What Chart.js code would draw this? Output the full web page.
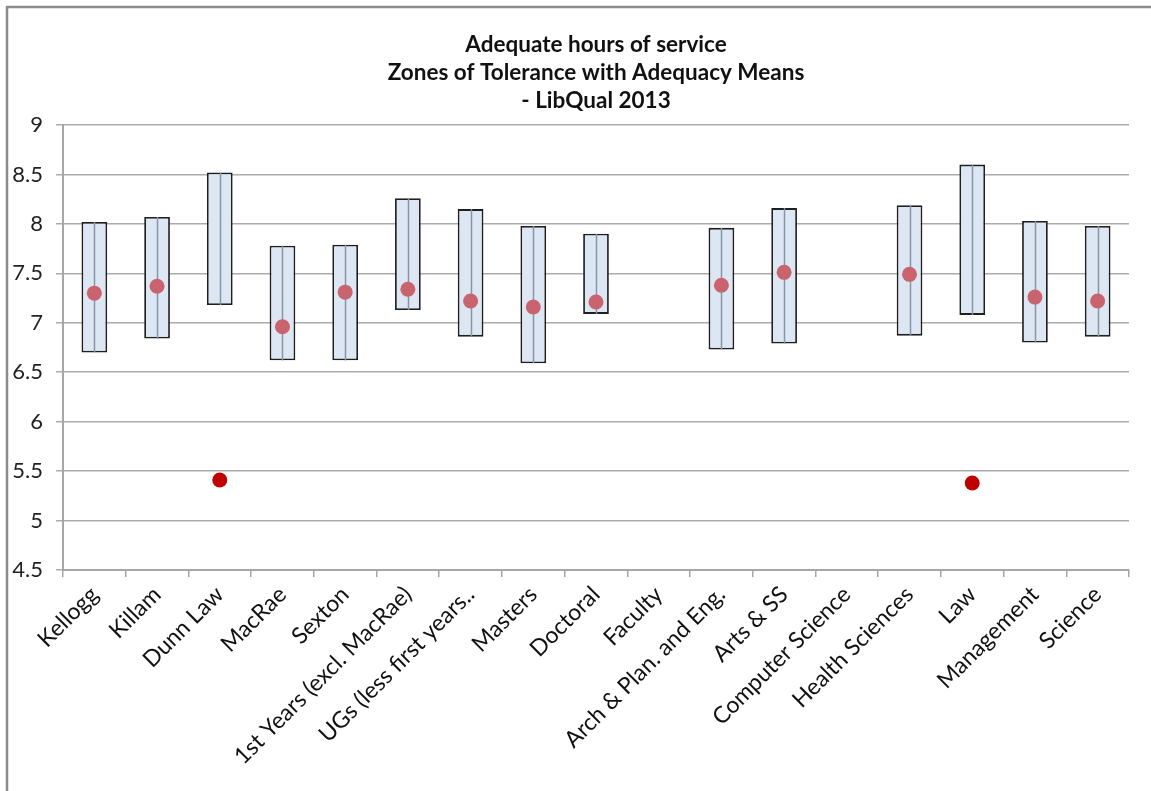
<!DOCTYPE html>
<html>
<head>
<meta charset="utf-8">
<script src="https://cdn.jsdelivr.net/npm/chart.js@4.4.1/dist/chart.umd.min.js"></script>
<style>
  html, body { margin: 0; padding: 0; background: #ffffff; overflow: hidden; }
  #wrap { position: absolute; left: 0; top: 0; width: 1151px; height: 791px; }
</style>
</head>
<body>
<div id="wrap"><canvas id="zot"></canvas></div>
<script>
// Groups surveyed in LibQual 2013
const categories = [
  'Kellogg', 'Killam', 'Dunn Law', 'MacRae', 'Sexton',
  '1st Years (excl. MacRae)', 'UGs (less first years..', 'Masters', 'Doctoral',
  'Faculty', 'Arch & Plan. and Eng.', 'Arts & SS', 'Computer Science',
  'Health Sciences', 'Law', 'Management', 'Science'
];

// Zone of tolerance: minimum and desired means
const minimumMeans = [6.70, 6.84, 7.18, 6.62, 6.62, 7.13, 6.86, 6.59, 7.09, null, 6.73, 6.79, null, 6.87, 7.08, 6.80, 6.86];
const desiredMeans = [8.02, 8.07, 8.52, 7.78, 7.79, 8.26, 8.15, 7.98, 7.90, null, 7.96, 8.16, null, 8.19, 8.60, 8.03, 7.98];

// Adequacy (perceived) means
const adequacyMeans = [7.30, 7.37, 5.41, 6.96, 7.31, 7.34, 7.22, 7.16, 7.21, null, 7.38, 7.51, null, 7.49, 5.38, 7.26, 7.22];

// Value axis ticks
const yMin = 4.5;
const yMax = 9;
const yStep = 0.5;

const FONT = 'Lato, "Open Sans", "DejaVu Sans", sans-serif';

const zones = categories.map((c, i) =>
  (minimumMeans[i] == null || desiredMeans[i] == null) ? null : [minimumMeans[i], desiredMeans[i]]);

// Means inside their zone are drawn muted, those below it in strong red
const pointColors = adequacyMeans.map((v, i) => {
  if (v == null) return 'rgba(0,0,0,0)';
  const inside = minimumMeans[i] != null && v >= minimumMeans[i] && v <= desiredMeans[i];
  return inside ? '#c9646e' : '#c00000';
});

// Thin centre line through each tolerance bar
const centreLine = {
  id: 'centreLine',
  afterDatasetDraw(chart, args) {
    if (args.index !== 0) return;
    const ctx = chart.ctx;
    ctx.save();
    ctx.strokeStyle = '#8595a9';
    ctx.lineWidth = 1.5;
    args.meta.data.forEach((bar, i) => {
      if (zones[i] == null) return;
      ctx.beginPath();
      ctx.moveTo(Math.round(bar.x) + 0.5, bar.y);
      ctx.lineTo(Math.round(bar.x) + 0.5, bar.base);
      ctx.stroke();
    });
    ctx.restore();
  }
};

// Frame around the chart object
const frame = {
  id: 'frame',
  beforeDraw(chart) {
    const ctx = chart.ctx;
    ctx.save();
    ctx.strokeStyle = '#8c8c8c';
    ctx.lineWidth = 2.5;
    ctx.beginPath();
    ctx.moveTo(7, chart.height + 5);
    ctx.lineTo(7, 7);
    ctx.lineTo(chart.width + 5, 7);
    ctx.stroke();
    ctx.restore();
  }
};

new Chart(document.getElementById('zot'), {
  type: 'bar',
  data: {
    labels: categories,
    datasets: [
      {
        label: 'Zone of tolerance',
        data: zones,
        backgroundColor: '#dde7f3',
        borderColor: '#1f1f1f',
        borderWidth: 1.8,
        borderSkipped: false,
        categoryPercentage: 1.0,
        barPercentage: 0.41,
        order: 2
      },
      {
        type: 'line',
        label: 'Adequacy mean',
        data: adequacyMeans,
        showLine: false,
        pointRadius: 7.5,
        pointHoverRadius: 7.5,
        pointBorderWidth: 0,
        pointBackgroundColor: pointColors,
        pointBorderColor: pointColors,
        order: 1
      }
    ]
  },
  options: {
    responsive: true,
    maintainAspectRatio: false,
    animation: false,
    layout: { padding: { left: 8, right: 22, top: 0, bottom: 0 } },
    plugins: {
      legend: { display: false },
      tooltip: { enabled: false },
      title: {
        display: true,
        fullSize: false,
        text: ['Adequate hours of service', 'Zones of Tolerance with Adequacy Means', '- LibQual 2013'],
        color: '#111111',
        font: { family: FONT, size: 22.5, weight: 'bold', lineHeight: 1.245 },
        padding: { top: 31, bottom: 10 }
      }
    },
    scales: {
      x: {
        offset: true,
        grid: {
          offset: true,
          drawOnChartArea: false,
          drawTicks: true,
          tickLength: 7,
          color: '#a6a6a6',
          lineWidth: 1.5
        },
        border: { color: '#a6a6a6', width: 2 },
        ticks: {
          autoSkip: false,
          minRotation: 45,
          maxRotation: 45,
          padding: 4,
          color: '#111111',
          font: { family: FONT, size: 23 }
        },
        afterFit(scale) { scale.height = 221; }
      },
      y: {
        min: yMin,
        max: yMax,
        grid: {
          color: '#ababab',
          lineWidth: 1.5,
          drawTicks: true,
          tickLength: 7
        },
        border: { color: '#a6a6a6', width: 2 },
        ticks: {
          stepSize: yStep,
          padding: 13,
          color: '#222222',
          font: { family: FONT, size: 22 },
          callback: (v) => String(Number(v))
        },
        afterFit(scale) { scale.width = 55; }
      }
    }
  },
  plugins: [frame, centreLine]
});
</script>
</body>
</html>
